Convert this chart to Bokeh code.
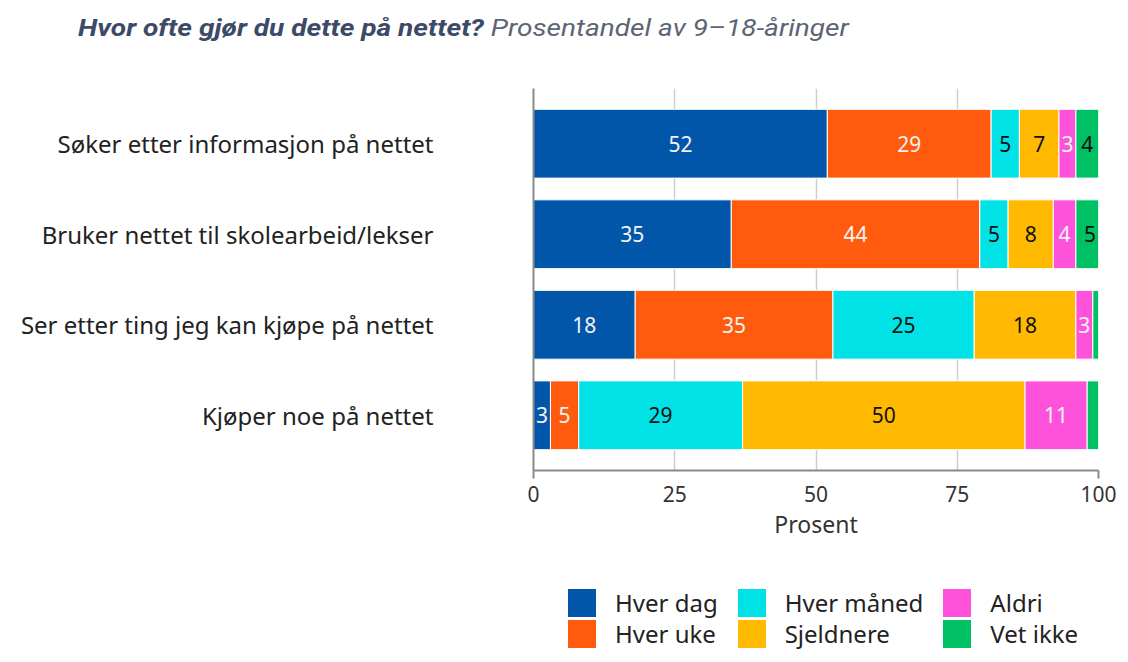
from bokeh.plotting import figure
from bokeh.layouts import column
from bokeh.models import (FactorRange, Range1d, Div, FixedTicker, ColumnDataSource)
from bokeh.core.properties import value
from bokeh.embed import file_html
from bokeh.resources import INLINE

# Survey activities (top to bottom as shown)
categories = [
    "Søker etter informasjon på nettet",
    "Bruker nettet til skolearbeid/lekser",
    "Ser etter ting jeg kan kjøpe på nettet",
    "Kjøper noe på nettet",
]

series = ["Hver dag", "Hver uke", "Hver måned", "Sjeldnere", "Aldri", "Vet ikke"]

# Share of 9–18 year olds (percent) per answer
hver_dag = [52, 35, 18, 3]
hver_uke = [29, 44, 35, 5]
hver_maaned = [5, 5, 25, 29]
sjeldnere = [7, 8, 18, 50]
aldri = [3, 4, 3, 11]
vet_ikke = [4, 5, 1, 2]

x_ticks = [0, 25, 50, 75, 100]

title_main = "Hvor ofte gjør du dette på nettet?"
title_sub = "Prosentandel av 9–18-åringer"

series_values = [hver_dag, hver_uke, hver_maaned, sjeldnere, aldri, vet_ikke]
series_keys = ["hver_dag", "hver_uke", "hver_maaned", "sjeldnere", "aldri", "vet_ikke"]

colors = ["#0156aa", "#ff5a0d", "#00e2e6", "#ffb900", "#ff52db", "#00c064"]
label_colors = ["#f2f2f2", "#f2f2f2", "#111111", "#111111", "#f2f2f2", "#111111"]

FONT = "Noto Sans"
TITLE_FONT = "Roboto"

# ---- heading (two text styles) ----
head = Div(
    text=('<div style="display:inline-block;transform:scaleX(1.22);transform-origin:0 0">'
          f'<span style="font-weight:bold;font-style:italic;color:#3c4a68">{title_main}</span>'
          f'&nbsp;<span style="font-style:italic;color:#5d6475">{title_sub}</span></div>'),
    width=1128, height=60, margin=(0, 0, 0, 0),
    styles={"font-family": TITLE_FONT, "font-size": "23px", "padding-left": "78px",
            "padding-top": "16px", "white-space": "nowrap", "line-height": "26px",
            "box-sizing": "border-box"},
)

# ---- stacked bars ----
p = figure(
    width=1128, height=492,
    y_range=FactorRange(factors=categories[::-1], range_padding=0.055),
    x_range=Range1d(0, 100),
    output_backend="svg", toolbar_location=None,
    min_border_left=533, min_border_right=30,
    min_border_top=28, min_border_bottom=82,
)
p.outline_line_color = None
p.background_fill_color = "white"
p.border_fill_color = "white"

data = {"cat": categories}
for key, vals in zip(series_keys, series_values):
    data[key] = vals
source = ColumnDataSource(data)

renderers = p.hbar_stack(series_keys, y="cat", height=0.76, fill_color=colors,
                         line_color="white", line_width=1, source=source)

# Value labels centred in each segment (small segments stay unlabeled)
lab_x, lab_y, lab_t, lab_c = [], [], [], []
for i, cat in enumerate(categories):
    left = 0
    for s, vals in enumerate(series_values):
        v = vals[i]
        if v >= 3:
            lab_x.append(left + v / 2)
            lab_y.append(cat)
            lab_t.append(str(v))
            lab_c.append(label_colors[s])
        left += v
p.text(x="x", y="y", text="t", text_color="c",
       source=ColumnDataSource(dict(x=lab_x, y=lab_y, t=lab_t, c=lab_c)),
       text_align="center", text_baseline="middle",
       text_font=value(FONT), text_font_size="21px")

# Axes and grid
p.xaxis.ticker = FixedTicker(ticks=x_ticks, minor_ticks=[0, 100])
p.xaxis.major_tick_out = 0
p.xaxis.major_tick_in = 0
p.xaxis.minor_tick_out = 8
p.xaxis.minor_tick_in = 0
p.xaxis.minor_tick_line_color = "#8a8a8a"
p.xaxis.minor_tick_line_width = 2
p.xaxis.axis_line_color = "#8a8a8a"
p.xaxis.axis_line_width = 2
p.xaxis.major_label_standoff = 7
p.xaxis.major_label_text_font = FONT
p.xaxis.major_label_text_font_size = "21px"
p.xaxis.major_label_text_color = "#333333"
p.xaxis.axis_label = "Prosent"
p.xaxis.axis_label_standoff = 3
p.xaxis.axis_label_text_font = FONT
p.xaxis.axis_label_text_font_size = "23px"
p.xaxis.axis_label_text_font_style = "normal"
p.xaxis.axis_label_text_color = "#333333"

p.yaxis.major_tick_line_color = None
p.yaxis.axis_line_color = "#8a8a8a"
p.yaxis.axis_line_width = 2
p.yaxis.major_label_standoff = 94
p.yaxis.major_label_text_font = FONT
p.yaxis.major_label_text_font_size = "24px"
p.yaxis.major_label_text_color = "#222222"

p.xgrid.grid_line_color = "#cfcfcf"
p.xgrid.grid_line_width = 1.5
p.ygrid.grid_line_color = None

# ---- legend: three columns of two entries, filled column by column ----
order = [0, 2, 4, 1, 3, 5]
cells = "".join(
    '<div style="display:flex;align-items:center;height:28px">'
    f'<span style="display:inline-block;width:28px;height:28px;background:{colors[k]}"></span>'
    f'<span style="margin-left:19px">{series[k]}</span></div>'
    for k in order
)
legend_div = Div(
    text=('<div style="display:grid;grid-template-columns:auto auto auto;'
          f'column-gap:20px;row-gap:3px">{cells}</div>'),
    width=1128, height=110, margin=(0, 0, 0, 0),
    styles={"font-family": FONT, "font-size": "24px", "color": "#222222",
            "padding-left": "568px", "padding-top": "37px", "white-space": "nowrap",
            "box-sizing": "border-box"},
)

open("out.html", "w").write(file_html(column(head, p, legend_div, spacing=0), INLINE))
